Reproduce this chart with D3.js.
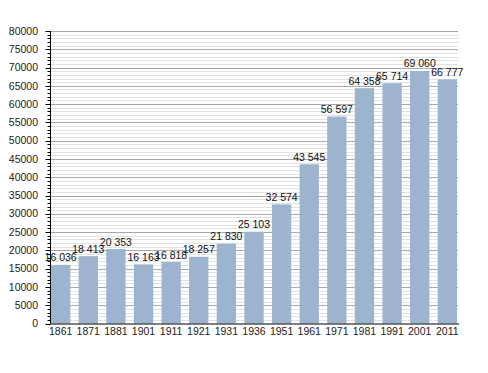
<!DOCTYPE html>
<html><head><meta charset="utf-8">
<script src="https://cdn.jsdelivr.net/npm/d3@7"></script>
<style>body{margin:0;background:#fff}svg{display:block}text{font-family:"Liberation Sans",Arial,sans-serif;}</style>
</head><body>
<svg id="c" width="488" height="373"></svg>
<script>
const years = ["1861","1871","1881","1901","1911","1921","1931","1936","1951","1961","1971","1981","1991","2001","2011"];
const population = [16036,18413,20353,16163,16818,18257,21830,25103,32574,43545,56597,64358,65714,69060,66777];
const yTicks = [0,5000,10000,15000,20000,25000,30000,35000,40000,45000,50000,55000,60000,65000,70000,75000,80000];

(function(){
const svg = d3.select("#c");
const pL = 50, pR = 458, pT = 31, pB = 323.5;
const y = d3.scaleLinear().domain([0,80000]).range([pB, pT]);
const x = d3.scaleBand().domain(years).range([51, 457]).paddingInner(0.3).paddingOuter(0);

const minor = d3.range(0, 80001, 1000).filter(v => v % 5000 !== 0);
svg.append("g").selectAll("line").data(minor).join("line")
  .attr("x1", pL).attr("x2", pR)
  .attr("y1", d => Math.round(y(d)) + 0.5).attr("y2", d => Math.round(y(d)) + 0.5)
  .attr("stroke", "#e2e2e2").attr("stroke-width", 1);
svg.append("g").selectAll("line").data(yTicks.filter(v => v > 0)).join("line")
  .attr("x1", pL).attr("x2", pR)
  .attr("y1", d => Math.round(y(d)) + 0.5).attr("y2", d => Math.round(y(d)) + 0.5)
  .attr("stroke", "#a8a8a8").attr("stroke-width", 1);

svg.append("g").selectAll("rect").data(population).join("rect")
  .attr("x", (d,i) => x(years[i])).attr("width", x.bandwidth())
  .attr("y", d => y(d)).attr("height", d => pB - y(d))
  .attr("fill", "#9db4cf");

const ya = svg.append("g").attr("transform", `translate(${pL+0.5},0)`);
ya.append("line").attr("y1", pT).attr("y2", pB).attr("stroke", "#000");
ya.selectAll(".mi").data(minor).join("line").attr("class","mi")
  .attr("x1", -3).attr("x2", 0).attr("y1", d => Math.round(y(d))+0.5).attr("y2", d => Math.round(y(d))+0.5).attr("stroke","#000");
ya.selectAll(".ma").data(yTicks).join("line").attr("class","ma")
  .attr("x1", -5).attr("x2", 0).attr("y1", d => Math.round(y(d))+0.5).attr("y2", d => Math.round(y(d))+0.5).attr("stroke","#000");
ya.selectAll("text").data(yTicks).join("text")
  .attr("x", -12.5).attr("y", d => y(d)).attr("dy", "0.35em")
  .attr("text-anchor", "end").attr("font-size", 10.5).attr("fill", "#222")
  .text(d => d);

svg.append("line").attr("x1", pL).attr("x2", pR+1).attr("y1", pB+0.5).attr("y2", pB+0.5).attr("stroke", "#000");
svg.append("g").selectAll("text").data(years).join("text")
  .attr("x", d => x(d) + x.bandwidth()/2).attr("y", 335)
  .attr("text-anchor", "middle").attr("font-size", 10.5).attr("fill", "#222")
  .text(d => d);

const fmt = v => d3.format(",")(v).replace(/,/g, " ");
svg.append("g").selectAll("text").data(population).join("text")
  .attr("x", (d,i) => x(years[i]) + x.bandwidth()/2).attr("y", d => y(d) - 3.5)
  .attr("text-anchor", "middle").attr("font-size", 10.5).attr("fill", "#111")
  .text(d => fmt(d));
})();
</script>
</body></html>
